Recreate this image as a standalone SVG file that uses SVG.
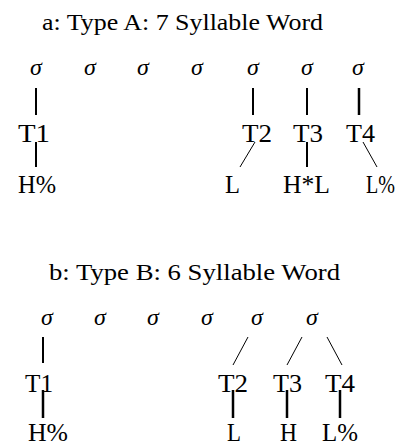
<svg xmlns="http://www.w3.org/2000/svg" width="406" height="446" viewBox="0 0 406 446">
<style>
.thin{stroke:#000;stroke-width:1}
.med{stroke:#000;stroke-width:2}
.thick{stroke:#000;stroke-width:2.5}
</style>
<rect width="406" height="446" fill="#fff"/>
<g id="diagramA">
<text id="titleA" font-family="Liberation Serif" font-size="23" x="42" y="30" textLength="281" lengthAdjust="spacingAndGlyphs">a: Type A: 7 Syllable Word</text>
<g id="a-sigmas">
<text font-family="Liberation Serif" font-size="24" font-style="italic" text-anchor="middle" x="36" y="75">σ</text>
<text font-family="Liberation Serif" font-size="24" font-style="italic" text-anchor="middle" x="90" y="75">σ</text>
<text font-family="Liberation Serif" font-size="24" font-style="italic" text-anchor="middle" x="143" y="75">σ</text>
<text font-family="Liberation Serif" font-size="24" font-style="italic" text-anchor="middle" x="197" y="75">σ</text>
<text font-family="Liberation Serif" font-size="24" font-style="italic" text-anchor="middle" x="253" y="75">σ</text>
<text font-family="Liberation Serif" font-size="24" font-style="italic" text-anchor="middle" x="307" y="75">σ</text>
<text font-family="Liberation Serif" font-size="24" font-style="italic" text-anchor="middle" x="358" y="75">σ</text>
</g>
<g id="a-T1"><text font-family="Liberation Serif" font-size="25" x="18" y="142" textLength="32" lengthAdjust="spacingAndGlyphs">T1</text></g>
<g id="a-T2"><text font-family="Liberation Serif" font-size="25" x="242" y="142" textLength="30" lengthAdjust="spacingAndGlyphs">T2</text></g>
<g id="a-T3"><text font-family="Liberation Serif" font-size="25" x="293" y="142" textLength="30" lengthAdjust="spacingAndGlyphs">T3</text></g>
<g id="a-T4"><text font-family="Liberation Serif" font-size="25" x="346" y="142" textLength="29" lengthAdjust="spacingAndGlyphs">T4</text></g>
<g id="a-Hpct"><text font-family="Liberation Serif" font-size="25" x="18" y="193" textLength="38" lengthAdjust="spacingAndGlyphs">H%</text></g>
<g id="a-L"><text font-family="Liberation Serif" font-size="25" x="225" y="193" textLength="15" lengthAdjust="spacingAndGlyphs">L</text></g>
<g id="a-HstarL"><text font-family="Liberation Serif" font-size="25" x="283" y="193" textLength="47" lengthAdjust="spacingAndGlyphs">H*L</text></g>
<g id="a-Lpct"><text font-family="Liberation Serif" font-size="25" x="366" y="193" textLength="29" lengthAdjust="spacingAndGlyphs">L%</text></g>
<g id="a-connectors">
<line class="med" x1="36" y1="88" x2="36" y2="115"/>
<line class="med" x1="253" y1="88" x2="253" y2="115"/>
<line class="med" x1="307" y1="88" x2="307" y2="115"/>
<line class="thick" x1="359" y1="88" x2="359" y2="115"/>
<line class="med" x1="36" y1="142" x2="36" y2="167"/>
<line class="thin" x1="255" y1="142" x2="240" y2="167"/>
<line class="med" x1="307" y1="142" x2="307" y2="167"/>
<line class="thin" x1="363" y1="142" x2="377" y2="167"/>
</g>
</g>
<g id="diagramB">
<text id="titleB" font-family="Liberation Serif" font-size="23" x="49" y="280" textLength="291" lengthAdjust="spacingAndGlyphs">b: Type B: 6 Syllable Word</text>
<g id="b-sigmas">
<text font-family="Liberation Serif" font-size="24" font-style="italic" text-anchor="middle" x="47" y="325">σ</text>
<text font-family="Liberation Serif" font-size="24" font-style="italic" text-anchor="middle" x="100" y="325">σ</text>
<text font-family="Liberation Serif" font-size="24" font-style="italic" text-anchor="middle" x="153" y="325">σ</text>
<text font-family="Liberation Serif" font-size="24" font-style="italic" text-anchor="middle" x="207" y="325">σ</text>
<text font-family="Liberation Serif" font-size="24" font-style="italic" text-anchor="middle" x="257" y="325">σ</text>
<text font-family="Liberation Serif" font-size="24" font-style="italic" text-anchor="middle" x="312" y="325">σ</text>
</g>
<g id="b-T1"><text font-family="Liberation Serif" font-size="25" x="25" y="392" textLength="28" lengthAdjust="spacingAndGlyphs">T1</text></g>
<g id="b-T2"><text font-family="Liberation Serif" font-size="25" x="218" y="392" textLength="30" lengthAdjust="spacingAndGlyphs">T2</text></g>
<g id="b-T3"><text font-family="Liberation Serif" font-size="25" x="273" y="392" textLength="29" lengthAdjust="spacingAndGlyphs">T3</text></g>
<g id="b-T4"><text font-family="Liberation Serif" font-size="25" x="325" y="392" textLength="30" lengthAdjust="spacingAndGlyphs">T4</text></g>
<g id="b-Hpct"><text font-family="Liberation Serif" font-size="25" x="28" y="441" textLength="40" lengthAdjust="spacingAndGlyphs">H%</text></g>
<g id="b-L"><text font-family="Liberation Serif" font-size="25" x="227" y="441" textLength="14" lengthAdjust="spacingAndGlyphs">L</text></g>
<g id="b-H"><text font-family="Liberation Serif" font-size="25" x="280" y="441" textLength="17" lengthAdjust="spacingAndGlyphs">H</text></g>
<g id="b-Lpct"><text font-family="Liberation Serif" font-size="25" x="322" y="441" textLength="36" lengthAdjust="spacingAndGlyphs">L%</text></g>
<g id="b-connectors">
<line class="med" x1="43" y1="337" x2="43" y2="363"/>
<line class="thin" x1="248" y1="337" x2="233" y2="365"/>
<line class="thin" x1="302" y1="337" x2="287" y2="365"/>
<line class="thin" x1="327" y1="337" x2="342" y2="365"/>
<line class="thick" x1="43" y1="390" x2="43" y2="418"/>
<line class="thick" x1="233" y1="390" x2="233" y2="418"/>
<line class="thick" x1="287" y1="390" x2="287" y2="418"/>
<line class="thick" x1="340" y1="390" x2="340" y2="418"/>
</g>
</g>
</svg>
